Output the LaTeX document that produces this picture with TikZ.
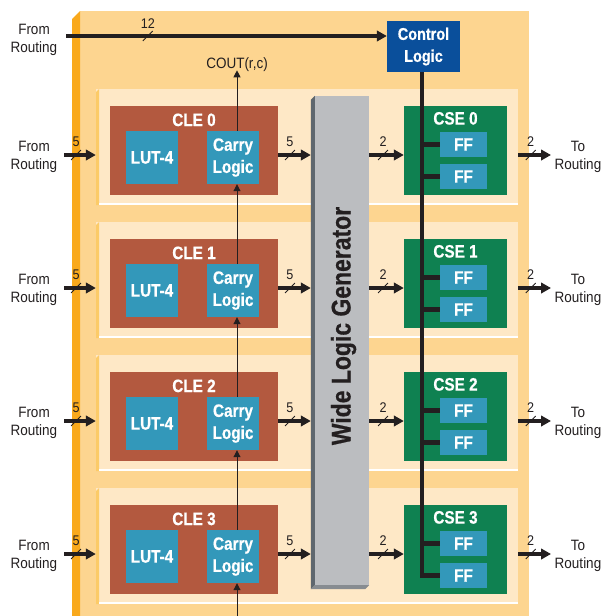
\documentclass[tikz,border=0pt]{standalone}
\usepackage{fontspec}
\setsansfont{Liberation Sans}[FakeStretch=0.9]
\newfontfamily\boxfont{Liberation Sans}[FakeStretch=0.85,FakeBold=0.6]
\usetikzlibrary{arrows.meta,positioning,calc}
\definecolor{ink}{HTML}{231F20}
\definecolor{panelFill}{HTML}{FDD590}
\definecolor{panelEdge}{HTML}{F9A91C}
\definecolor{rowFill}{HTML}{FEE8C6}
\definecolor{rowEdge}{HTML}{FCCB68}
\definecolor{cleFill}{HTML}{B3593F}
\definecolor{lutFill}{HTML}{3398BA}
\definecolor{cseFill}{HTML}{0F8151}
\definecolor{ctrlFill}{HTML}{0A4F9B}
\definecolor{wlgFill}{HTML}{BBBDC0}
\definecolor{wlgSide}{HTML}{5F676E}
\definecolor{wlgBottom}{HTML}{878C91}
\tikzset{
  lbl/.style={font=\sffamily\fontsize{15}{17.5}\selectfont, text=ink, inner sep=0pt, align=center},
  num/.style={font=\sffamily\fontsize{14}{16}\selectfont, text=ink, inner sep=0pt},
  blk/.style={inner sep=0pt, text=white, font=\boxfont\bfseries\fontsize{18}{22}\selectfont, align=center},
  cle/.style={blk, fill=cleFill, minimum width=168, minimum height=89},
  lut/.style={blk, fill=lutFill, minimum width=52, minimum height=53},
  cse/.style={blk, fill=cseFill, minimum width=103, minimum height=89},
  ffbox/.style={blk, fill=lutFill, minimum width=47, minimum height=25},
  ctrlbox/.style={blk, fill=ctrlFill, minimum width=73, minimum height=51, font=\boxfont\bfseries\fontsize{17}{22}\selectfont},
  rowpanel/.style={fill=rowFill, inner sep=0pt, minimum width=422, minimum height=116},
  wlgbox/.style={fill=wlgFill, inner sep=0pt, minimum width=54, minimum height=489},
  wlgtext/.style={text=ink, inner sep=0pt, font=\boxfont\bfseries\fontsize{27}{30}\selectfont},
  bus/.style={-{Triangle[length=10pt,width=10.5pt]}, line width=4.5pt, draw=ink},
  thinarrow/.style={-{Triangle[length=7pt,width=7pt]}, line width=1pt, draw=ink},
  ctrlline/.style={line width=4.5pt, draw=ink},
  slash/.style={draw=ink, line width=0.9pt, rotate=45, minimum width=14, minimum height=0pt, inner sep=0pt},
}
\begin{document}
\begin{tikzpicture}[x=1pt,y=-1pt]
  \useasboundingbox (0,0) rectangle (603,616);

  % outer tile
  \fill[panelFill] (80,11) rectangle (529,616);
  \fill[panelEdge] (72,19) -- (80,11) -- (80,616) -- (72,616) -- cycle;

  % control logic and top input
  \node[ctrlbox] (ctrl) at (423.5,46.5) {Control\\Logic};
  \coordinate (busTop) at ([xshift=-1.5pt]ctrl.south);
  \node[lbl] (fromTop) at (34,40) {From\\Routing};
  \coordinate (frt) at (66,36);
  \draw[bus] (frt) -- node[slash, pos=.255]{} node[num, pos=.255, above=5pt]{12} (ctrl.west |- frt);

  % one row per CLE / CSE pair
  \foreach \r in {0,...,3}{
    \pgfmathsetmacro\t{106+133*\r}
    \node[rowpanel] (rowp\r) at (307,\t+40.5) {};
    \fill[rowEdge] (96,\t-14) -- (99,\t-17) -- (99,\t+99) -- (96,\t+99) -- cycle;
    \draw[white, line width=1.5pt] (99,\t+98) -- (518,\t+98);

    \node[cle] (cle\r) at (194,\t+44.5) {};
    \node[blk] (cleT\r) [below=7.5pt of cle\r.north] {CLE \r};
    \node[lut] (lut\r) at (152,\t+51.5) {LUT-4};
    \node[lut] (carry\r) at (233,\t+51.5) {Carry\\Logic};

    \node[cse] (cse\r) at (455.5,\t+44.5) {};
    \node[blk] (cseT\r) [below=6pt of cse\r.north] {CSE \r};
    \node[ffbox] (ffA\r) at (463.5,\t+38.5) {FF};
    \node[ffbox] (ffB\r) at (463.5,\t+70.5) {FF};

    \coordinate (in\r) at (64,\t+49);
    \coordinate (out\r) at (551,\t+49);
    \node[lbl] (from\r) at (34,\t+51) {From\\Routing};
    \node[lbl] (to\r) at (578,\t+51) {To\\Routing};
  }

  % wide logic generator
  \node[wlgbox] (wlg) at (342,340.5) {};
  \fill[wlgSide] (wlg.north west) -- ++(-4,4) -- ($(wlg.south west)+(-4,4)$) -- (wlg.south west) -- cycle;
  \fill[wlgBottom] (wlg.south west) -- ++(-4,4) -- ($(wlg.south east)+(-4,4)$) -- (wlg.south east) -- cycle;
  \node[wlgtext, rotate=90, anchor=base] (wlgT) at (350.5,326) {Wide Logic Generator};

  % arrows of each row
  \foreach \r in {0,...,3}{
    \draw[bus] (in\r) -- node[slash, pos=.38]{} node[num, pos=.38, above=6pt]{5} (in\r -| rowp\r.west);
    \draw[bus] (cle\r.east |- in\r) -- node[slash, pos=.36]{} node[num, pos=.36, above=6pt]{5} ([xshift=-4pt]wlg.west |- in\r);
    \draw[bus] (wlg.east |- in\r) -- node[slash, pos=.4]{} node[num, pos=.4, above=6pt]{2} (cse\r.west |- in\r);
    \draw[bus] (rowp\r.east |- out\r) -- node[slash, pos=.38]{} node[num, pos=.38, above=6pt]{2} (out\r);
    \draw[ctrlline] (ffA\r.west) -- (ffA\r.west -| busTop);
  }
  \draw[ctrlline] (busTop) |- (ffB3.west);
  \foreach \r in {0,1,2}{
    \draw[ctrlline] (ffB\r.west) -- (ffB\r.west -| busTop);
  }

  % carry chain
  \node[lbl, anchor=base] (cout) at (237,68) {COUT(r,c)};
  \coordinate (cin) at (237,616);
  \draw[thinarrow, shorten >=-1pt] ([xshift=4pt]carry0.north) -- (cout.south);
  \draw[thinarrow] ([xshift=4pt]carry1.north) -- ([xshift=4pt]carry0.south);
  \draw[thinarrow] ([xshift=4pt]carry2.north) -- ([xshift=4pt]carry1.south);
  \draw[thinarrow] ([xshift=4pt]carry3.north) -- ([xshift=4pt]carry2.south);
  \draw[thinarrow] (cin) -- ([xshift=4pt]carry3.south);
\end{tikzpicture}
\end{document}
